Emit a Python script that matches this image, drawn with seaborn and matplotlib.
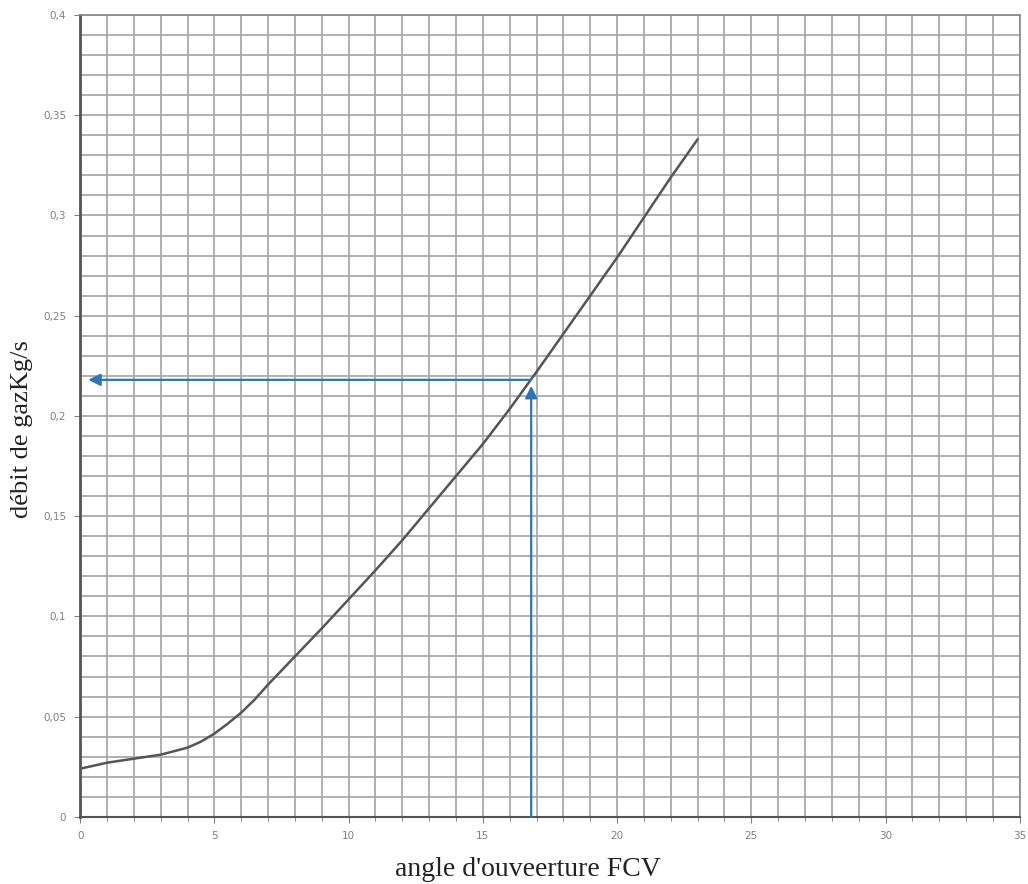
import numpy as np
import pandas as pd
import matplotlib
matplotlib.use("Agg")
import matplotlib.pyplot as plt
from matplotlib.ticker import MultipleLocator, FuncFormatter
import seaborn as sns

angle = [0, 1, 2, 3, 4, 4.5, 5, 5.5, 6, 6.5, 7, 8, 9, 10, 11, 12, 13, 14,
         15, 16, 17, 18, 19, 20, 21, 22, 23]
debit = [0.024, 0.027, 0.029, 0.031, 0.0345, 0.0375, 0.0415, 0.0465, 0.052,
         0.0585, 0.066, 0.080, 0.094, 0.1085, 0.123, 0.138, 0.154, 0.170,
         0.186, 0.2035, 0.222, 0.241, 0.260, 0.279, 0.299, 0.319, 0.338]

# point de lecture
angle_lu = 16.8
debit_lu = 0.218
fleche_fin = 0.3

x_ticks = [0, 5, 10, 15, 20, 25, 30, 35]
y_ticks = [0, 0.05, 0.1, 0.15, 0.2, 0.25, 0.3, 0.35, 0.4]

df = pd.DataFrame({"angle": angle, "debit": debit})

sns.set_style("white")
fig = plt.figure(figsize=(10.28, 8.84), dpi=100)
ax = fig.add_axes([0.078, 0.076, 0.914, 0.907])

sns.lineplot(data=df, x="angle", y="debit", ax=ax, color="#555555", lw=1.8)

bleu = "#2e75b6"
ax.annotate("", xy=(fleche_fin, debit_lu), xytext=(angle_lu, debit_lu),
            arrowprops=dict(arrowstyle="-|>", color=bleu, lw=1.6,
                            mutation_scale=18, shrinkA=0, shrinkB=0))
ax.annotate("", xy=(angle_lu, debit_lu - 0.003), xytext=(angle_lu, 0),
            arrowprops=dict(arrowstyle="-|>", color=bleu, lw=1.6,
                            mutation_scale=18, shrinkA=0, shrinkB=0))

ax.set_xlim(0, 35)
ax.set_ylim(0, 0.4)
ax.set_xticks(x_ticks)
ax.set_yticks(y_ticks)
ax.xaxis.set_minor_locator(MultipleLocator(1))
ax.yaxis.set_minor_locator(MultipleLocator(0.01))
ax.grid(True, which="both", color="#aaaaaa", lw=1.3)
ax.set_axisbelow(True)


def virgule(v, pos):
    s = f"{v:g}"
    return s.replace(".", ",")


ax.yaxis.set_major_formatter(FuncFormatter(virgule))
ax.tick_params(axis="both", which="major", labelsize=7.5, colors="#808080",
               length=4, direction="out", bottom=True, left=True, pad=6)
ax.tick_params(axis="x", which="minor", length=3, bottom=True, color="#777777")
for s in ax.spines.values():
    s.set_color("#888888")
    s.set_linewidth(1.2)
ax.spines["left"].set_color("#555555")
ax.spines["left"].set_linewidth(2)
ax.spines["bottom"].set_color("#555555")
ax.spines["bottom"].set_linewidth(1.5)

ax.set_xlabel("angle d'ouveerture FCV", fontsize=20,
              family="Liberation Serif", color="#222222")
ax.xaxis.set_label_coords(0.477, -0.05)
ax.set_ylabel("débit de gazKg/s", fontsize=19,
              family="Liberation Serif", color="#222222")
ax.yaxis.set_label_coords(-0.05, 0.483)

fig.savefig("out.png", dpi=100)
